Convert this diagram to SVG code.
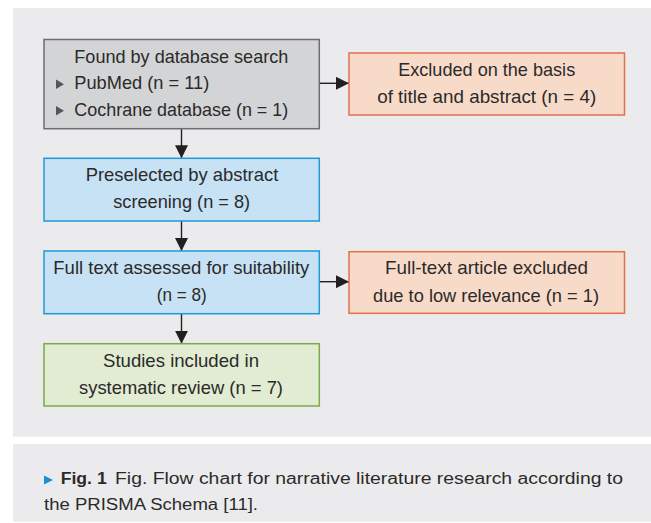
<svg xmlns="http://www.w3.org/2000/svg" width="651" height="523" viewBox="0 0 651 523">
<style>
.t{font-family:"Liberation Sans",Arial,sans-serif;font-size:18.5px;fill:#2b2a29;text-anchor:middle}
.tl{text-anchor:start}
.c{font-family:"Liberation Sans",Arial,sans-serif;font-size:16px;fill:#2b2a29}
.b{stroke-width:1.5}
.gray{fill:#d3d4d6;stroke:#6d6e71}
.org{fill:#f8dac9;stroke:#e2704b}
.blu{fill:#c7e2f5;stroke:#1e9ad6}
.grn{fill:#e1ecd3;stroke:#7aab45}
.ln{stroke:#231f20;stroke-width:1.4;fill:none}
</style>
<defs>
<marker id="ah" markerUnits="userSpaceOnUse" markerWidth="13" markerHeight="13" refX="13" refY="6.5" orient="auto">
<path d="M0,0 L13,6.5 L0,13 z" fill="#231f20"/>
</marker>
</defs>
<rect x="13" y="8" width="638" height="428.7" fill="#ebebed"/>
<rect x="13" y="444" width="638" height="77.7" fill="#ebebed"/>
<g id="connectors">
<line class="ln" x1="181.5" y1="128.7" x2="181.5" y2="158.3" marker-end="url(#ah)"/>
<line class="ln" x1="181.5" y1="221" x2="181.5" y2="251" marker-end="url(#ah)"/>
<line class="ln" x1="181.5" y1="313.7" x2="181.5" y2="343.7" marker-end="url(#ah)"/>
<line class="ln" x1="319.3" y1="83.3" x2="349" y2="83.3" marker-end="url(#ah)"/>
<line class="ln" x1="319.3" y1="281.7" x2="349" y2="281.7" marker-end="url(#ah)"/>
</g>
<g id="found">
<rect class="b gray" x="44" y="39.5" width="275.3" height="89.2"/>
<text class="t" x="181.3" y="63" textLength="214" lengthAdjust="spacingAndGlyphs">Found by database search</text>
<path d="M56,79.5 L64,84.3 L56,89.1 z" fill="#555657"/>
<text class="t tl" x="74.3" y="89.3" textLength="135" lengthAdjust="spacingAndGlyphs">PubMed (n = 11)</text>
<path d="M56,106 L64,110.8 L56,115.6 z" fill="#555657"/>
<text class="t tl" x="74.3" y="115.7" textLength="214" lengthAdjust="spacingAndGlyphs">Cochrane database (n = 1)</text>
</g>
<g id="excluded1">
<rect class="b org" x="349" y="53" width="275.5" height="62"/>
<text class="t" x="486.7" y="76" textLength="177" lengthAdjust="spacingAndGlyphs">Excluded on the basis</text>
<text class="t" x="486.7" y="102.7" textLength="219" lengthAdjust="spacingAndGlyphs">of title and abstract (n = 4)</text>
</g>
<g id="preselected">
<rect class="b blu" x="44" y="158.3" width="275.3" height="62.7"/>
<text class="t" x="182" y="181" textLength="192.6" lengthAdjust="spacingAndGlyphs">Preselected by abstract</text>
<text class="t" x="181.7" y="208.3" textLength="137" lengthAdjust="spacingAndGlyphs">screening (n = 8)</text>
</g>
<g id="fulltext">
<rect class="b blu" x="44" y="251" width="275.3" height="62.7"/>
<text class="t" x="181.3" y="274" textLength="256" lengthAdjust="spacingAndGlyphs">Full text assessed for suitability</text>
<text class="t" x="181.7" y="301" textLength="50" lengthAdjust="spacingAndGlyphs">(n = 8)</text>
</g>
<g id="excluded2">
<rect class="b org" x="349" y="251.7" width="275.5" height="61.6"/>
<text class="t" x="486.5" y="274" textLength="203" lengthAdjust="spacingAndGlyphs">Full-text article excluded</text>
<text class="t" x="486" y="301.5" textLength="226" lengthAdjust="spacingAndGlyphs">due to low relevance (n = 1)</text>
</g>
<g id="included">
<rect class="b grn" x="44" y="343.7" width="275.3" height="62.3"/>
<text class="t" x="181" y="366.7" textLength="156" lengthAdjust="spacingAndGlyphs">Studies included in</text>
<text class="t" x="181" y="394" textLength="204" lengthAdjust="spacingAndGlyphs">systematic review (n = 7)</text>
</g>
<g id="caption">
<path d="M44,475.5 L53,480 L44,484.5 z" fill="#1a8fd3"/>
<text class="c" x="60.7" y="484" font-weight="bold" textLength="46" lengthAdjust="spacingAndGlyphs">Fig. 1</text>
<text class="c" x="115" y="484" textLength="508" lengthAdjust="spacingAndGlyphs">Fig. Flow chart for narrative literature research according to</text>
<text class="c" x="44" y="510" textLength="214" lengthAdjust="spacingAndGlyphs">the PRISMA Schema [11].</text>
</g>
</svg>
